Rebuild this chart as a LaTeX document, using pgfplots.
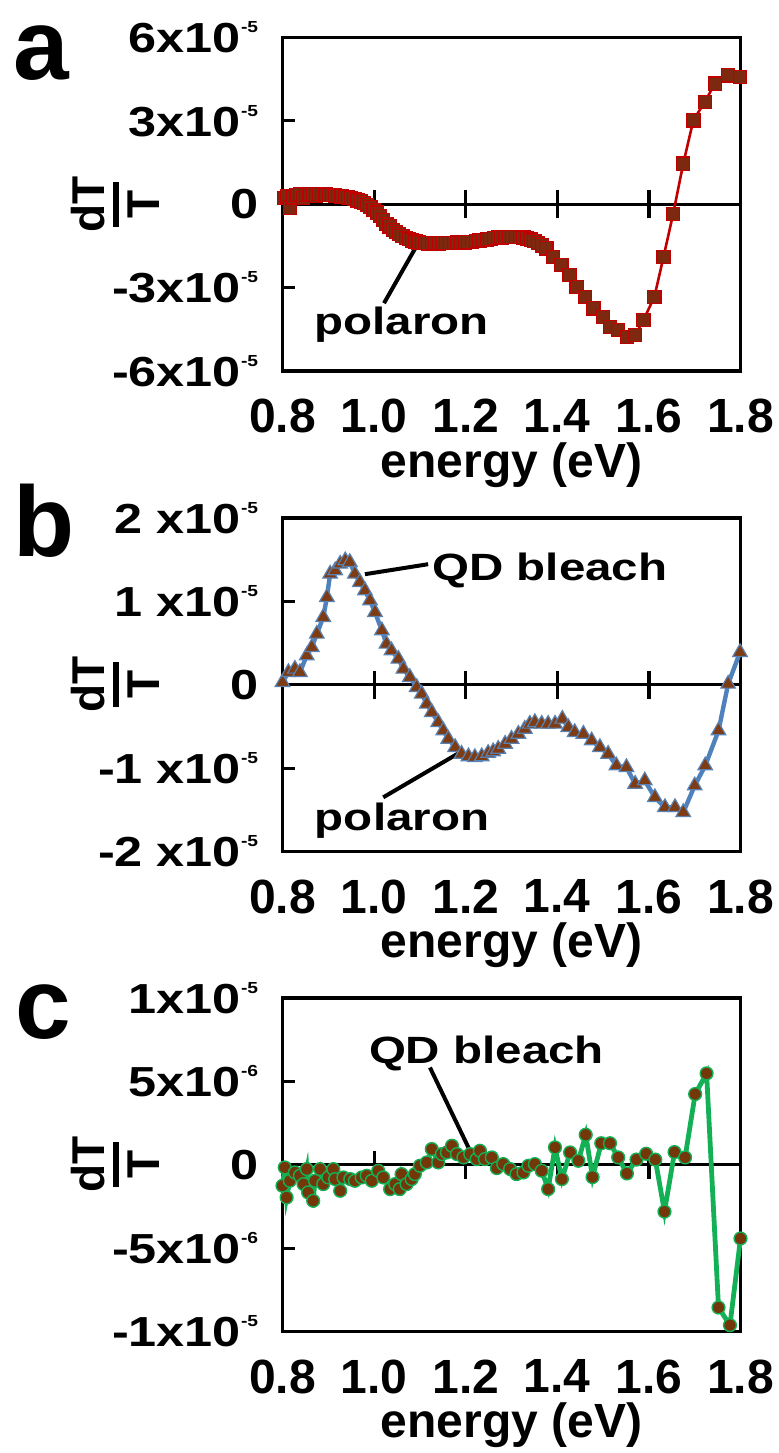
\documentclass[border=0pt]{standalone}
\usepackage{fontspec}
\setmainfont{Liberation Sans}
\newfontfamily\yfont{Liberation Sans}[FakeStretch=1.2]
\newfontfamily\afont{Liberation Sans}[FakeStretch=1.25]
\usepackage{pgfplots}
\pgfplotsset{compat=1.18}
\definecolor{redA}{RGB}{192,0,0}
\definecolor{brnA}{RGB}{125,40,15}
\definecolor{blueB}{RGB}{79,129,189}
\definecolor{brnB}{RGB}{125,60,20}
\definecolor{greenC}{RGB}{20,176,85}
\definecolor{brnC}{RGB}{115,55,10}
\newcommand\ex[1]{\raisebox{10pt}{\fontsize{8}{8}\selectfont #1}}
\newcommand\dTT{\vbox{\offinterlineskip
  \hbox to 30pt{\hss dT\hss}\kern4pt
  \hbox to 30pt{\hss\rule{22.5pt}{3pt}\hss}\kern4pt
  \hbox to 30pt{\hss T\hss}}}
\pgfplotsset{
  panel/.style={
    scale only axis, width=229pt, height=166.75pt,
    xmin=0.8, xmax=1.8, clip=false,
    axis line style={line width=1.6pt},
    xtick={0.8,1.0,1.2,1.4,1.6,1.8},
    xticklabels={0.8,1.0,1.2,1.4,1.6,1.8},
    xtick style={draw=none},
    xticklabel style={font=\bfseries\fontsize{24}{24}\selectfont, inner sep=0pt, anchor=north, yshift=-14pt},
    ytick pos=left, ytick align=inside, major tick length=6pt,
    ytick style={line width=1.6pt, black},
    yticklabel style={font=\yfont\bfseries\fontsize{21}{21}\selectfont, inner sep=0pt, anchor=east, xshift=-12pt},
    xlabel={energy (eV)},
    xlabel style={font=\bfseries\fontsize{24}{24}\selectfont, inner sep=0pt, at={(axis description cs:0.5,0)}, anchor=north, yshift=-35.5pt},
    ylabel={\dTT},
    ylabel style={font=\bfseries\fontsize{23}{23}\selectfont, at={(axis description cs:-0.365,0.5)}, anchor=center, inner sep=0pt},
  },
}
\tikzset{
  ann/.style={font=\afont\bfseries\fontsize{19}{19}\selectfont, anchor=base, inner sep=0pt},
  letter/.style={font=\bfseries\fontsize{50}{50}\selectfont, anchor=base west, inner sep=0pt},
  zt/.style={line width=1.6pt, black},
}
\pgfplotstableread{
x y
0.803 0.22
0.810 0.28
0.817 -0.12
0.824 0.25
0.831 0.33
0.838 0.36
0.845 0.22
0.852 0.34
0.859 0.38
0.866 0.38
0.873 0.30
0.880 0.36
0.887 0.37
0.894 0.35
0.901 0.34
0.908 0.33
0.915 0.31
0.922 0.30
0.929 0.28
0.936 0.27
0.943 0.25
0.950 0.22
0.957 0.18
0.964 0.14
0.971 0.10
0.978 0.05
0.985 -0.03
0.992 -0.10
0.999 -0.20
1.006 -0.30
1.013 -0.42
1.020 -0.56
1.027 -0.70
1.034 -0.80
1.041 -0.92
1.048 -1.00
1.055 -1.08
1.062 -1.15
1.069 -1.21
1.076 -1.26
1.083 -1.30
1.090 -1.34
1.097 -1.37
1.104 -1.39
1.111 -1.40
1.118 -1.41
1.126 -1.41
1.134 -1.41
1.142 -1.41
1.150 -1.40
1.158 -1.40
1.166 -1.39
1.174 -1.39
1.182 -1.38
1.190 -1.38
1.198 -1.37
1.206 -1.36
1.214 -1.35
1.222 -1.33
1.230 -1.31
1.238 -1.29
1.246 -1.27
1.254 -1.24
1.262 -1.22
1.270 -1.20
1.278 -1.19
1.286 -1.18
1.294 -1.17
1.302 -1.17
1.310 -1.17
1.318 -1.18
1.326 -1.20
1.334 -1.23
1.342 -1.27
1.350 -1.32
1.358 -1.39
1.366 -1.48
1.376 -1.59
1.391 -1.89
1.409 -2.19
1.427 -2.55
1.442 -2.97
1.460 -3.33
1.479 -3.75
1.500 -4.05
1.515 -4.41
1.533 -4.53
1.552 -4.77
1.570 -4.71
1.588 -4.17
1.612 -3.33
1.632 -1.89
1.653 -0.34
1.675 1.46
1.697 3.02
1.722 3.68
1.744 4.34
1.773 4.64
1.799 4.58
}\dataA
\pgfplotstableread{
x y
0.800 0.03
0.813 0.15
0.827 0.19
0.838 0.15
0.853 0.35
0.864 0.45
0.875 0.61
0.889 0.81
0.897 1.05
0.904 1.33
0.915 1.37
0.926 1.45
0.937 1.49
0.947 1.47
0.958 1.33
0.969 1.23
0.980 1.13
0.991 1.01
1.002 0.87
1.017 0.65
1.027 0.49
1.038 0.41
1.053 0.31
1.064 0.19
1.078 0.09
1.093 -0.03
1.104 -0.11
1.115 -0.23
1.126 -0.33
1.140 -0.45
1.151 -0.55
1.162 -0.65
1.177 -0.75
1.191 -0.83
1.206 -0.86
1.220 -0.87
1.235 -0.86
1.249 -0.82
1.260 -0.80
1.271 -0.77
1.286 -0.71
1.300 -0.65
1.315 -0.59
1.329 -0.53
1.340 -0.47
1.351 -0.45
1.366 -0.47
1.380 -0.47
1.395 -0.47
1.411 -0.41
1.424 -0.51
1.438 -0.57
1.457 -0.59
1.475 -0.67
1.493 -0.75
1.511 -0.83
1.529 -0.97
1.551 -0.99
1.570 -1.19
1.591 -1.15
1.613 -1.35
1.635 -1.47
1.657 -1.47
1.675 -1.53
1.700 -1.21
1.723 -0.97
1.752 -0.55
1.773 0.01
1.799 0.39
}\dataB
\pgfplotstableread{
x y
0.800 -1.26
0.805 -0.16
0.809 -1.96
0.816 -0.96
0.827 -0.46
0.838 -0.66
0.846 -1.16
0.853 -0.26
0.856 -1.66
0.867 -2.16
0.871 -0.96
0.882 -0.26
0.889 -1.16
0.900 -0.76
0.911 -0.26
0.915 -0.86
0.926 -1.56
0.933 -0.76
0.948 -0.86
0.958 -0.96
0.973 -0.76
0.984 -0.66
0.995 -0.96
1.009 -0.36
1.020 -0.76
1.035 -1.46
1.046 -1.16
1.056 -1.46
1.060 -0.56
1.071 -1.16
1.082 -0.86
1.089 -0.56
1.100 -0.06
1.115 0.14
1.126 0.94
1.140 0.14
1.148 0.64
1.159 0.74
1.170 1.14
1.181 0.64
1.195 0.44
1.210 0.64
1.224 0.34
1.231 0.84
1.242 0.34
1.257 0.44
1.268 -0.20
1.282 0.04
1.297 -0.26
1.311 -0.56
1.326 -0.46
1.337 -0.06
1.351 0.04
1.366 -0.36
1.380 -1.46
1.395 1.04
1.410 -0.86
1.428 0.74
1.446 0.24
1.462 1.80
1.477 -0.74
1.496 1.29
1.515 1.29
1.533 0.44
1.552 -0.52
1.573 0.31
1.594 0.66
1.614 0.31
1.634 -2.81
1.656 0.76
1.679 0.44
1.701 4.24
1.726 5.48
1.752 -8.56
1.777 -9.62
1.800 -4.42
}\dataC
\begin{document}
\begin{tikzpicture}
\path[use as bounding box] (0,0) rectangle (389.5pt,-726.5pt);
% ---------- panel a
\begin{axis}[panel, at={(141.25pt,-18.75pt)}, anchor=north west,
  ymin=-6, ymax=6, ytick={-6,-3,0,3,6},
  yticklabels={-6x10\ex{-5},-3x10\ex{-5},0\hspace{14pt},3x10\ex{-5},6x10\ex{-5}}]
\draw[zt] (axis cs:0.8,0) -- (axis cs:1.8,0);
\pgfplotsinvokeforeach{1.0,1.2,1.4,1.6}{\draw[zt] ([yshift=-7pt]axis cs:#1,0) -- ([yshift=7pt]axis cs:#1,0);}
\addplot[redA, line width=1.3pt, mark=square*, mark size=3.3pt,
  mark options={fill=brnA, draw=redA, line width=0.6pt}] table[x=x,y=y] {\dataA};
\draw[line width=2pt] (axis cs:1.0216,-3.56) -- (axis cs:1.104,-1.175);
\node[ann] at (axis cs:1.060,-4.67) {polaron};
\node[letter] at (axis description cs:-0.588,0.875) {a};
\end{axis}
% ---------- panel b
\begin{axis}[panel, at={(141.25pt,-259pt)}, anchor=north west,
  ymin=-2, ymax=2, ytick={-2,-1,0,1,2},
  yticklabels={-2 x10\ex{-5},-1 x10\ex{-5},0\hspace{10pt},1 x10\ex{-5},2 x10\ex{-5}}]
\draw[zt] (axis cs:0.8,0) -- (axis cs:1.8,0);
\pgfplotsinvokeforeach{1.0,1.2,1.4,1.6}{\draw[zt] ([yshift=-7pt]axis cs:#1,0) -- ([yshift=7pt]axis cs:#1,0);}
\addplot[blueB, line width=2.2pt, mark=triangle*, mark size=4.2pt,
  mark options={fill=brnB, draw=blueB!80!gray, line width=0.6pt}] table[x=x,y=y] {\dataB};
\draw[line width=2pt] (axis cs:1.118,1.446) -- (axis cs:0.980,1.326);
\node[ann] at (axis cs:1.384,1.245) {QD bleach};
\draw[line width=2pt] (axis cs:1.020,-1.350) -- (axis cs:1.1876,-0.811);
\node[ann] at (axis cs:1.061,-1.749) {polaron};
\node[letter] at (axis description cs:-0.588,0.884) {b};
\end{axis}
% ---------- panel c
\begin{axis}[panel, at={(141.25pt,-499pt)}, anchor=north west,
  ymin=-10, ymax=10, ytick={-10,-5,0,5,10},
  yticklabels={-1x10\ex{-5},-5x10\ex{-6},0\hspace{10pt},5x10\ex{-6},1x10\ex{-5}}]
\draw[zt] (axis cs:0.8,0) -- (axis cs:1.8,0);
\pgfplotsinvokeforeach{1.0,1.2,1.4,1.6}{\draw[zt] ([yshift=-7pt]axis cs:#1,0) -- ([yshift=7pt]axis cs:#1,0);}
\addplot[greenC, line width=2.4pt, mark=*, mark size=3.2pt,
  mark options={fill=brnC, draw=greenC, line width=0.7pt}] table[x=x,y=y] {\dataC};
\draw[line width=2pt] (axis cs:1.122,5.83) -- (axis cs:1.2094,0.84);
\node[ann] at (axis cs:1.2454,6.05) {QD bleach};
\node[letter] at (axis description cs:-0.584,0.879) {c};
\end{axis}
\end{tikzpicture}
\end{document}
